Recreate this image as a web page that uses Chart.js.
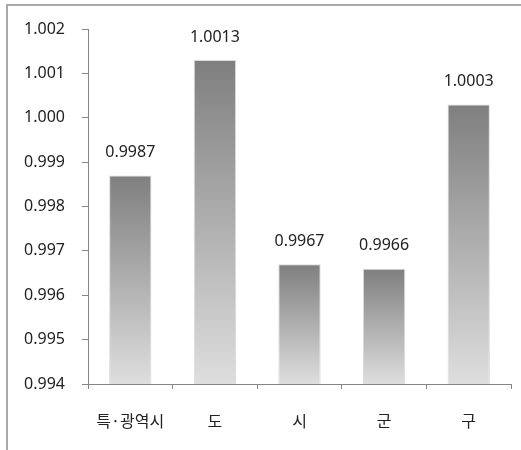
<!DOCTYPE html>
<html>
<head>
<meta charset="utf-8">
<script src="https://cdn.jsdelivr.net/npm/chart.js@4"></script>
<style>
  html, body { margin: 0; padding: 0; background: #fff; }
  #wrap { position: relative; width: 521px; height: 450px; overflow: hidden; }
  #frame { position: absolute; left: 6px; top: 4px; width: 600px; height: 600px;
           border-top: 2px solid #a9a9a9; border-left: 2px solid #a9a9a9; }
  canvas { position: absolute; left: 0; top: 0; }
</style>
</head>
<body>
<div id="wrap">
  <div id="frame"></div>
  <canvas id="chart" width="521" height="450"></canvas>
</div>
<script>
// categories and values
const regions = ['특·광역시', '도', '시', '군', '구'];
const ratios = [0.9987, 1.0013, 0.9967, 0.9966, 1.0003];
const yTicks = [0.994, 0.995, 0.996, 0.997, 0.998, 0.999, 1.000, 1.001, 1.002];

const fontFam = "'Noto Sans', 'Noto Sans CJK KR', sans-serif";

function barFill(c) {
  const chart = c.chart;
  const area = chart.chartArea;
  if (!area || c.dataIndex === undefined) return '#999';
  const top = chart.scales.y.getPixelForValue(c.raw);
  const g = chart.ctx.createLinearGradient(0, top, 0, area.bottom);
  g.addColorStop(0, '#7f7f7f');
  g.addColorStop(1, '#dedede');
  return g;
}

// value labels above bars
const valueLabels = {
  id: 'valueLabels',
  afterDatasetsDraw(chart) {
    const ctx = chart.ctx;
    const meta = chart.getDatasetMeta(0);
    ctx.save();
    ctx.font = '16px ' + fontFam;
    ctx.fillStyle = '#222';
    ctx.textAlign = 'center';
    ctx.textBaseline = 'middle';
    meta.data.forEach((bar, i) => {
      ctx.fillText(ratios[i].toFixed(4), bar.x, bar.y - 23);
    });
    ctx.restore();
  }
};

const ctx = document.getElementById('chart').getContext('2d');
const myChart = new Chart(ctx, {
  type: 'bar',
  data: {
    labels: regions,
    datasets: [{
      data: ratios,
      backgroundColor: barFill,
      borderColor: '#dadada',
      borderWidth: 1,
      categoryPercentage: 1,
      barPercentage: 0.5
    }]
  },
  options: {
    responsive: false,
    animation: false,
    layout: {
      padding: { left: 0, top: 29, right: 10, bottom: 0 }
    },
    scales: {
      x: {
        grid: {
          offset: true,
          drawOnChartArea: false,
          tickLength: 5,
          color: '#868686'
        },
        border: { color: '#868686', width: 1 },
        ticks: {
          color: '#222',
          padding: 22,
          font: { size: 16, family: "'Noto Sans CJK KR', sans-serif" }
        },
        afterFit(scale) { scale.height = 66; }
      },
      y: {
        min: 0.994,
        max: 1.002,
        afterBuildTicks(scale) {
          scale.ticks = yTicks.map(v => ({ value: v }));
        },
        grid: {
          drawOnChartArea: false,
          tickLength: 6,
          color: '#868686'
        },
        border: { color: '#868686', width: 1 },
        ticks: {
          color: '#222',
          padding: 17,
          font: { size: 16, family: fontFam },
          callback: v => v.toFixed(3)
        },
        afterFit(scale) { scale.width = 88; }
      }
    },
    plugins: {
      legend: { display: false },
      tooltip: { enabled: false },
      title: { display: false }
    }
  },
  plugins: [valueLabels]
});
</script>
</body>
</html>
